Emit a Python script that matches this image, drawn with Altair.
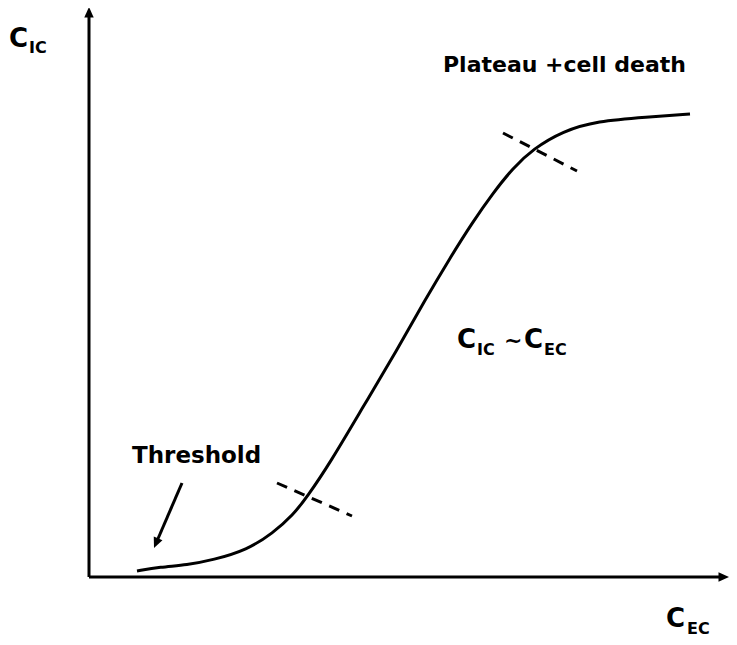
import altair as alt
import pandas as pd

# Coordinates: x = horizontal distance from the y axis, y = height above the x axis
curve_x = [47, 70, 97, 123, 157, 183, 203, 217, 240, 273, 307, 335, 360, 382, 403, 423, 443, 473, 507, 557, 600]
curve_y = [6, 10, 12, 17, 27, 44, 62, 80, 114, 170, 227, 277, 319, 354, 384, 409, 428, 446, 456, 460, 463]

# dashed boundary markers (start/end)
dash_x1 = [187, 413]
dash_y1 = [94, 444]
dash_x2 = [262, 487]
dash_y2 = [61, 406]

PAD = 5
W, H = 711, 619
XD = [-77, -77 + W]
YD = [564 - H, 564]
xs = alt.Scale(domain=XD, nice=False, zero=False)
ys = alt.Scale(domain=YD, nice=False, zero=False)

curve = pd.DataFrame({"x": curve_x, "y": curve_y, "o": range(len(curve_x))})
dashes = pd.DataFrame({"x": dash_x1, "y": dash_y1, "x2": dash_x2, "y2": dash_y2})
axes = pd.DataFrame({"x": [-1, -1], "y": [0, 0], "x2": [631, -1], "y2": [0, 560]})
heads = pd.DataFrame({"x": [639, -1, 64], "y": [0, 570, 29], "a": [90, 0, 203]})
thr_arrow = pd.DataFrame({"x": [92], "y": [94], "x2": [67], "y2": [36]})

big = pd.DataFrame({
    "x": [-81, 367, 434, 576],
    "y": [530, 229, 229, -50],
    "t": ["C", "C", "C", "C"],
})
sub = pd.DataFrame({
    "x": [-61, 387, 454, 597],
    "y": [524, 222, 222, -57],
    "t": ["IC", "IC", "EC", "EC"],
})
labels = pd.DataFrame({
    "x": [353, 42, 414],
    "y": [505, 114, 229],
    "t": ["Plateau +cell death", "Threshold", "~"],
    "s": [22, 23, 22],
})

enc = dict(x=alt.X("x:Q", scale=xs, axis=None), y=alt.Y("y:Q", scale=ys, axis=None))

line = alt.Chart(curve).mark_line(color="black", strokeWidth=3, interpolate="basis").encode(
    order="o:Q", **enc)
ax = alt.Chart(axes).mark_rule(color="black", strokeWidth=3).encode(x2="x2:Q", y2="y2:Q", **enc)
dsh = alt.Chart(dashes).mark_rule(color="black", strokeWidth=3, strokeDash=[11, 8]).encode(
    x2="x2:Q", y2="y2:Q", **enc)
thr = alt.Chart(thr_arrow).mark_rule(color="black", strokeWidth=3).encode(x2="x2:Q", y2="y2:Q", **enc)
hd = alt.Chart(heads).mark_point(shape="M0,0L0.9,2L-0.9,2Z", filled=True, color="black",
                                 opacity=1, size=110, strokeWidth=0).encode(
    angle=alt.Angle("a:Q", scale=None), **enc)

tb = alt.Chart(big).mark_text(font="DejaVu Sans", fontWeight="bold", fontSize=26, align="left",
                              baseline="alphabetic", color="black").encode(text="t:N", **enc)
ts = alt.Chart(sub).mark_text(font="DejaVu Sans", fontWeight="bold", fontSize=16, align="left",
                              baseline="alphabetic", color="black").encode(text="t:N", **enc)
tl = alt.Chart(labels).mark_text(font="DejaVu Sans", fontWeight="bold", align="left",
                                 baseline="alphabetic", color="black").encode(
    text="t:N", size=alt.Size("s:Q", scale=None, legend=None), **enc)

chart = alt.layer(ax, hd, line, dsh, thr, tb, ts, tl).properties(
    width=W, height=H, padding=PAD, autosize=alt.AutoSizeParams(type="none"),
    background="white"
).configure_view(stroke=None)

chart.save("out.html", embed_options={"renderer": "svg", "actions": False})
